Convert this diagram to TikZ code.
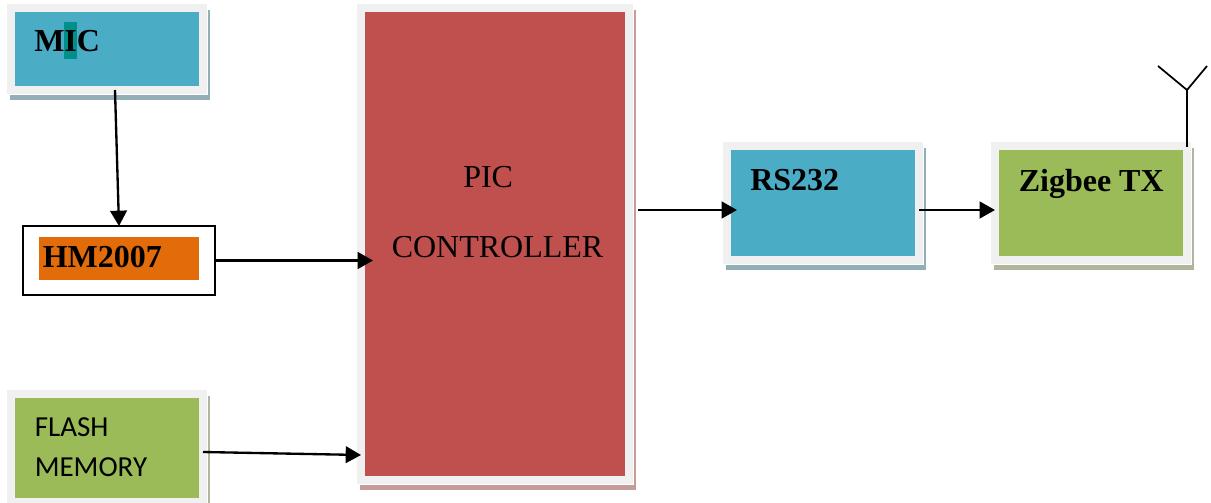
\documentclass[tikz,border=0pt]{standalone}
\usepackage{fontspec}
\setmainfont{Liberation Serif}
\newfontfamily\flashfont{Carlito}
\usetikzlibrary{arrows.meta,shadows}

\definecolor{blockblue}{HTML}{4BACC6}
\definecolor{blockred}{HTML}{C0504D}
\definecolor{blockgreen}{HTML}{9BBB59}
\definecolor{blockorange}{HTML}{E36C0A}
\definecolor{framegray}{HTML}{F0F0F0}
\definecolor{shadeblue}{HTML}{92AEB7}
\definecolor{shadered}{HTML}{C69C9B}
\definecolor{shadegreen}{HTML}{AEB79B}
\definecolor{marktl}{HTML}{008F8A}

\tikzset{
  block/.style 2 args={fill=#1,draw=framegray,line width=6pt,outer sep=0pt,inner sep=0pt,
    general shadow={shadow xshift=2.25pt,shadow yshift=-4.5pt,fill=#2,draw=#2,line width=6pt},
    general shadow={shadow xshift=0.75pt,shadow yshift=-0.9pt,fill=white,draw=white,line width=6pt}},
  txt/.style={anchor=base west,inner sep=0pt,font=\fontsize{24}{28}\selectfont},
  txtb/.style={txt,font=\fontsize{24}{28}\selectfont\bfseries},
  txtf/.style={txt,font=\fontsize{21.75}{26}\selectfont\flashfont},
  conn/.style={draw=black,line width=1.75pt,-{Triangle[length=11.5pt,width=12.5pt]}}
}

\begin{document}
\begin{tikzpicture}[x=0.75pt,y=-0.75pt]
\clip (0,0) rectangle (1211,503);

% left column
\node[block={blockblue}{shadeblue},minimum width=144pt,minimum height=61.5pt] (mic) at (107,49) {};
\node[draw=black,line width=1.5pt,outer sep=0pt,fill=white,minimum width=144pt,minimum height=51.75pt] (hm) at (119,260.5) {};
\node[fill=blockorange,inner sep=0pt,minimum width=120pt,minimum height=32.25pt] (hmtag) at (119,258.5) {};
\node[block={blockgreen}{shadegreen},minimum width=144pt,minimum height=81pt] (flash) at (107,448) {};

% controller
\node[block={blockred}{shadered},minimum width=201pt,minimum height=354pt] (pic) at (495,244) {};

% right side
\node[block={blockblue}{shadeblue},minimum width=144pt,minimum height=85.5pt] (rs) at (823,203) {};
\node[block={blockgreen}{shadegreen},minimum width=144pt,minimum height=85.5pt] (zig) at (1091,203) {};

% labels
\node[fill=marktl,inner sep=0pt,minimum width=9.75pt,minimum height=27.75pt] (micmark) at (70.5,40.5) {};
\node[txtb] (miclabel) at (34,52) {MIC};
\node[txtb] (hmlabel) at (42.5,267) {HM2007};
\node[txtf] (flashlabel) at (34.5,436) {FLASH};
\node[txtf] (memlabel) at (34.5,476) {MEMORY};
\node[txt] (piclabel) at (463,187) {PIC};
\node[txt] (ctrllabel) at (391.5,257) {CONTROLLER};
\node[txtb] (rslabel) at (750,190.5) {RS232};
\node[txtb] (ziglabel) at (1018.5,191) {Zigbee TX};

% connectors
\draw[conn] ([xshift=6pt]mic.south) -- (hm.north);
\draw[conn,shorten >=-9pt] (hm.east) -- (hm.east -| pic.west);
\draw[conn] ([yshift=-3pt]flash.east) -- ([yshift=-158.25pt]pic.west);
\draw[conn] ([xshift=6.75pt,yshift=25.5pt]pic.east) -- ([xshift=7.5pt,yshift=-5.25pt]rs.west);
\draw[conn] ([yshift=-5.25pt]rs.east) -- ([yshift=-5.25pt]zig.west);

% antenna
\coordinate (ant) at (1187,90);
\coordinate (antl) at (1158,66);
\coordinate (antr) at (1207,66);
\draw[line width=1.3pt] ([xshift=72pt,yshift=-1pt]zig.north) -- (ant);
\draw[line width=1.3pt] (antl) -- (ant) -- (antr);
\end{tikzpicture}
\end{document}
